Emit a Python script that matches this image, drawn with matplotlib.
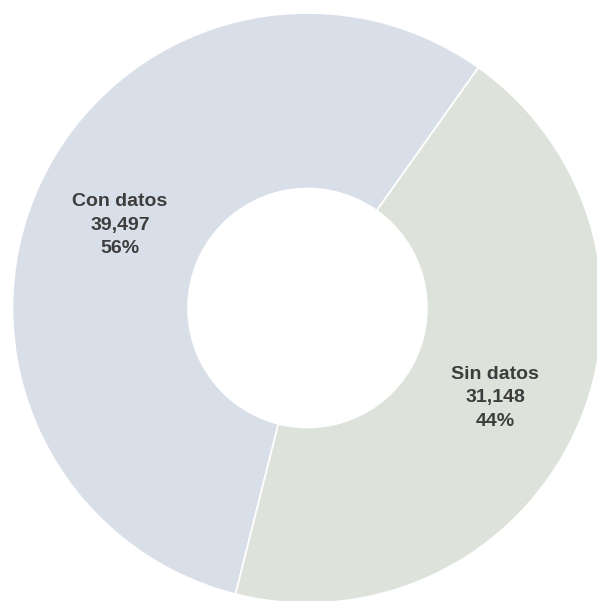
import matplotlib
matplotlib.use("Agg")
import matplotlib.pyplot as plt
import numpy as np

categories = ["Con datos", "Sin datos"]
values = [39497, 31148]
colors = ["#d9dfe8", "#dde3db"]

total = sum(values)

fig = plt.figure(figsize=(5.97, 6.01), dpi=100)
ax = fig.add_axes([0, 0, 1, 1])
wedges, _ = ax.pie(values, colors=colors, startangle=54.6, counterclock=True,
                   center=(307.5, 293), radius=295,
                   wedgeprops=dict(width=295 * 0.595, edgecolor="white", linewidth=1.2))
ax.set_xlim(0, 597)
ax.set_ylim(0, 601)
ax.set_aspect("equal")
ax.axis("off")

for w, name, v in zip(wedges, categories, values):
    mid = np.deg2rad((w.theta1 + w.theta2) / 2)
    r = 0.70 * 295
    x = 307.5 + r * np.cos(mid)
    y = 293 + r * np.sin(mid) - 3.5  # nudge down a bit
    label = "{}\n{:,}\n{:.0f}%".format(name, v, 100 * v / total)
    ax.text(x, y, label, ha="center", va="center", fontsize=14, fontweight="bold",
            family="Liberation Sans", color="#3d3d3d", linespacing=1.52)

plt.savefig("out.png", dpi=100, facecolor="white")
